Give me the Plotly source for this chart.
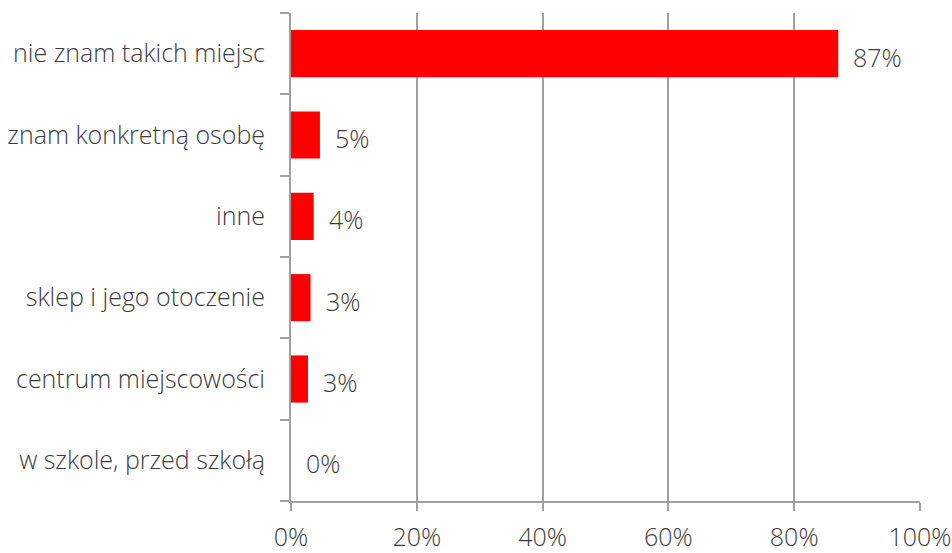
import plotly.graph_objects as go

categories = ["nie znam takich miejsc", "znam konkretną osobę", "inne",
              "sklep i jego otoczenie", "centrum miejscowości", "w szkole, przed szkołą"]
values = [87.0, 4.6, 3.6, 3.1, 2.7, 0.0]
labels = ["87%", "5%", "4%", "3%", "3%", "0%"]
x_ticks = [0, 20, 40, 60, 80, 100]
x_tick_labels = ["0%", "20%", "40%", "60%", "80%", "100%"]

FONT = "Open Sans"
TXT = "#3c3c3c"
GRID = "#a0a0a0"
FS = 25

fig = go.Figure()
fig.add_trace(go.Bar(
    y=categories, x=values, orientation="h",
    marker=dict(color="#ff0000", line=dict(width=0)),
    width=0.58, hoverinfo="skip",
))
for c, v, t in zip(categories, values, labels):
    fig.add_annotation(x=v, y=c, text=t, showarrow=False, xanchor="left",
                       xshift=13, yshift=-3,
                       font=dict(family=FONT, size=FS, color=TXT, weight=300))

fig.update_layout(
    width=952, height=553,
    margin=dict(l=291, r=32, t=13, b=52, autoexpand=False),
    paper_bgcolor="white", plot_bgcolor="white",
    showlegend=False,
    font=dict(family=FONT, size=FS, color=TXT, weight=300),
)
fig.update_xaxes(
    range=[0, 100], tickvals=x_ticks, ticktext=x_tick_labels,
    showgrid=True, gridcolor=GRID, gridwidth=2,
    showline=True, linecolor=GRID, linewidth=2,
    ticks="outside", ticklen=8, tickcolor=GRID, tickwidth=2,
    zeroline=False, ticklabelstandoff=5, automargin=False,
    tickfont=dict(family=FONT, size=FS, color=TXT, weight=300),
)
fig.update_yaxes(
    categoryorder="array", categoryarray=categories[::-1],
    autorange=False, range=[-0.5, 5.5],
    showgrid=False, showline=True, linecolor=GRID, linewidth=2,
    ticks="outside", tickson="boundaries", ticklen=9, tickcolor=GRID, tickwidth=2,
    zeroline=False, ticklabelstandoff=19, automargin=False,
    tickfont=dict(family=FONT, size=FS, color=TXT, weight=300),
)
fig.write_html("out.html", config={"displayModeBar": False},
               post_script="document.body.style.margin='0';document.body.style.overflow='hidden';")
